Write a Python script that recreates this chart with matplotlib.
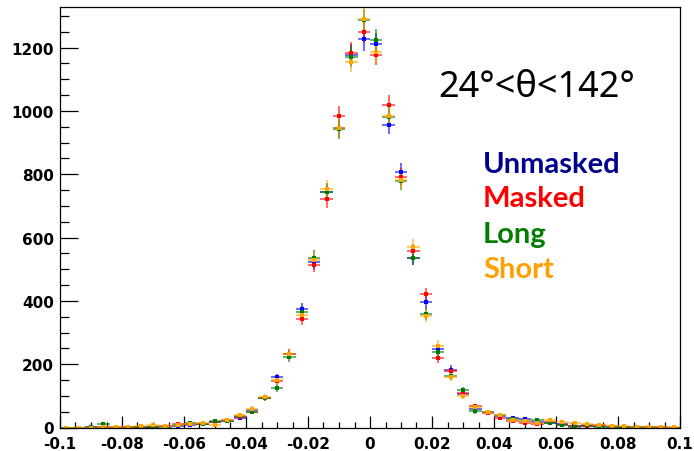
import numpy as np
import matplotlib
matplotlib.use('Agg')
import matplotlib.pyplot as plt
from matplotlib.ticker import MultipleLocator, FuncFormatter
from matplotlib.colors import to_rgba

# bin centres, 50 bins of width 0.004 between -0.1 and 0.1
bin_width = 0.004
centres = np.round(np.arange(-0.098, 0.099, bin_width), 3)

unmasked = [0, 0, 1, 1, 0, 1, 2, 3, 4, 6, 8, 10, 16, 21, 31, 55, 94, 158, 232, 374,
            522, 743, 945, 1178, 1226, 1211, 957, 806, 537, 395, 249, 183, 106, 60, 48,
            35, 30, 26, 16, 14, 10, 5, 5, 4, 3, 2, 2, 1, 1, 0]
masked = [0, 0, 0, 1, 1, 2, 2, 3, 5, 10, 12, 10, 17, 24, 33, 48, 93, 148, 233, 343,
          514, 721, 983, 1183, 1250, 1178, 1018, 792, 557, 421, 218, 178, 110, 67, 47,
          30, 20, 14, 10, 16, 9, 5, 6, 7, 4, 3, 2, 2, 1, 0]
long_ = [0, 0, 2, 12, 0, 1, 3, 3, 3, 7, 14, 10, 22, 22, 35, 48, 94, 124, 223, 366,
         537, 745, 943, 1172, 1287, 1225, 981, 779, 537, 359, 240, 162, 118, 51, 48,
         38, 27, 21, 23, 14, 7, 3, 7, 3, 3, 3, 3, 1, 0, 0]
short = [0, 0, 0, 1, 3, 3, 4, 7, 5, 8, 10, 14, 8, 23, 39, 60, 95, 151, 233, 354,
         529, 753, 946, 1156, 1290, 1185, 985, 783, 571, 352, 259, 160, 99, 64, 48,
         38, 25, 20, 14, 25, 16, 14, 10, 8, 5, 5, 3, 3, 2, 2]

series = [
    ('Unmasked', unmasked, '#0000ff', '#00008f'),
    ('Masked', masked, '#ff0000', '#ff0000'),
    ('Long', long_, '#007a00', '#007f00'),
    ('Short', short, '#ffa500', '#ffa000'),
]

plt.rcParams['axes.unicode_minus'] = False

fig = plt.figure(figsize=(6.94, 4.52), dpi=100)
ax = fig.add_axes([60 / 694, 1 - 428.5 / 452, 620 / 694, 421 / 452])

for name, vals, col, tcol in series:
    y = np.array(vals, dtype=float)
    ax.errorbar(centres, y, xerr=bin_width / 2, yerr=np.sqrt(y), fmt='s',
                markersize=2.8, color=col, ecolor=to_rgba(col, 0.75),
                elinewidth=1.1, capsize=0, markeredgewidth=0)

ax.set_xlim(-0.1, 0.1)
ax.set_ylim(0, 1330)

ax.xaxis.set_major_locator(MultipleLocator(0.02))
ax.xaxis.set_minor_locator(MultipleLocator(0.005))
ax.yaxis.set_major_locator(MultipleLocator(200))
ax.yaxis.set_minor_locator(MultipleLocator(50))
ax.xaxis.set_major_formatter(FuncFormatter(lambda v, p: '%g' % round(v, 3) if abs(v) > 1e-9 else '0'))
ax.yaxis.set_major_formatter(FuncFormatter(lambda v, p: '%d' % v))

ax.tick_params(axis='x', which='major', direction='in', length=8.6, width=0.9, pad=6,
               top=False, labelsize=11)
ax.tick_params(axis='x', which='minor', direction='in', length=4.3, width=0.9, top=False)
ax.tick_params(axis='y', which='major', direction='in', length=13, width=0.9, pad=4.5,
               right=False, labelsize=11)
ax.tick_params(axis='y', which='minor', direction='in', length=6.5, width=0.9, right=False)
for lab in ax.get_xticklabels() + ax.get_yticklabels():
    lab.set_fontfamily('DejaVu Sans')
    lab.set_fontweight('bold')
for sp in ax.spines.values():
    sp.set_linewidth(0.9)

fig.text(438 / 694, 1 - 96.7 / 452, '24°<θ<142°', fontsize=26,
         family=['Noto Sans', 'DejaVu Sans'], ha='left', va='baseline')

baselines = [173.3, 206.7, 243.3, 278.3]
for (name, vals, col, tcol), b in zip(series, baselines):
    fig.text(483 / 694, 1 - b / 452, name, fontsize=21, fontweight='bold',
             family=['Lato', 'DejaVu Sans'], color=tcol, ha='left', va='baseline')

fig.savefig('out.png', dpi=100)
